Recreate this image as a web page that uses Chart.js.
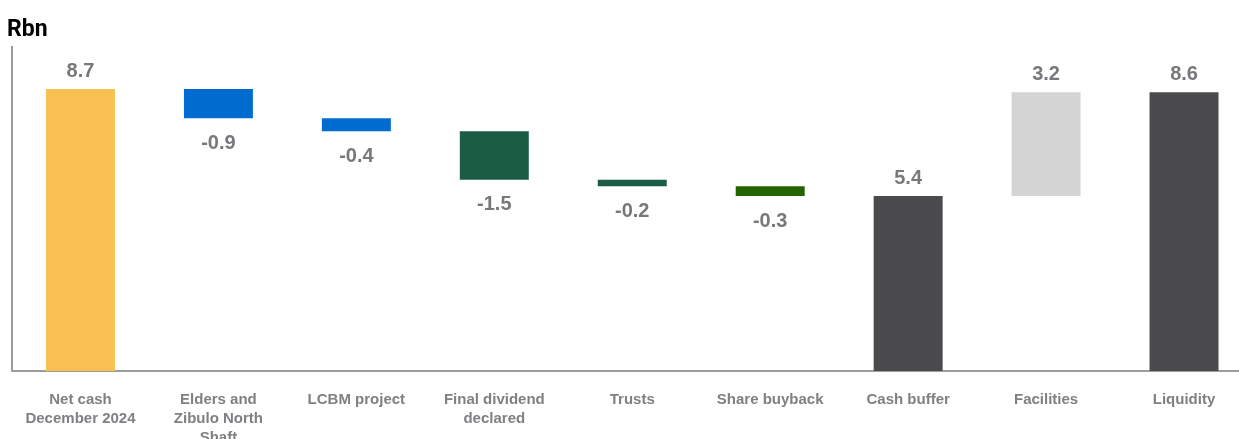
<!DOCTYPE html>
<html>
<head>
<meta charset="utf-8">
<script src="https://cdn.jsdelivr.net/npm/chart.js"></script>
<style>
  html, body {
    margin: 0;
    padding: 0;
    background: #ffffff;
    overflow: hidden;
  }
  .chart-box {
    width: 1253px;
    height: 439px;
  }
</style>
</head>
<body>
<div class="chart-box">
  <canvas id="myChart" width="1253" height="439"></canvas>
</div>

<script>
  const unitLabel = 'Rbn';
  const categories = [
    ['Net cash', 'December 2024'],
    ['Elders and', 'Zibulo North', 'Shaft'],
    'LCBM project',
    ['Final dividend', 'declared'],
    'Trusts',
    'Share buyback',
    'Cash buffer',
    'Facilities',
    'Liquidity',
  ];
  // movement per step in Rbn; totals start from zero
  const changes = [8.7, -0.9, -0.4, -1.5, -0.2, -0.3, 5.4, 3.2, 8.6];
  const isTotal = [true, false, false, false, false, false, true, false, true];
  const barColors = [
    '#F9C152',
    '#006CCF',
    '#006CCF',
    '#1B5C45',
    '#1B5C45',
    '#236400',
    '#4B4B4D',
    '#D4D4D4',
    '#4B4B4D',
  ];

  // build floating [start, end] pairs for the waterfall
  let running = 0;
  const floating = changes.map(function (v, i) {
    if (isTotal[i]) {
      running = v;
      return [0, v];
    }
    const start = running;
    running = Math.round((running + v) * 10) / 10;
    return [start, running];
  });

  // unit caption in the top-left corner
  const unitCaption = {
    id: 'unitCaption',
    afterDraw(chart) {
      const ctx = chart.ctx;
      ctx.save();
      ctx.font = 'bold 23px Roboto, sans-serif';
      ctx.fillStyle = '#000000';
      ctx.textAlign = 'left';
      ctx.textBaseline = 'alphabetic';
      ctx.fillText(unitLabel, 7, 36);
      ctx.restore();
    },
  };

  const valueLabels = {
    id: 'valueLabels',
    afterDatasetsDraw(chart) {
      const ctx = chart.ctx;
      const meta = chart.getDatasetMeta(0);
      ctx.save();
      ctx.font = 'bold 20px "Liberation Sans", Arial, sans-serif';
      ctx.fillStyle = '#78787C';
      ctx.textAlign = 'center';
      ctx.textBaseline = 'middle';
      meta.data.forEach(function (bar, i) {
        const top = Math.min(bar.y, bar.base);
        const bottom = Math.max(bar.y, bar.base);
        const v = changes[i];
        const y = v < 0 ? bottom + 25 : top - 18;
        ctx.fillText(v.toFixed(1), bar.x, y);
      });
      ctx.restore();
    },
  };

  const config = {
    type: 'bar',
    data: {
      labels: categories,
      datasets: [
        {
          data: floating,
          backgroundColor: barColors,
          borderWidth: 0,
          barPercentage: 1,
          categoryPercentage: 0.5,
        },
      ],
    },
    options: {
      responsive: false,
      animation: false,
      layout: {
        padding: { left: 11.5, right: 0, top: 47, bottom: 0 },
      },
      plugins: {
        legend: { display: false },
        tooltip: { enabled: false },
        title: { display: false },
      },
      scales: {
        x: {
          grid: { display: false, drawTicks: false },
          border: { display: true, color: '#9C9CA0', width: 2 },
          ticks: {
            color: '#808084',
            padding: 19,
            maxRotation: 0,
            autoSkip: false,
            font: {
              family: '"Liberation Sans", Arial, sans-serif',
              size: 15,
              weight: 'bold',
              lineHeight: 1.267,
            },
          },
          afterFit(scale) {
            scale.height = 68;
          },
        },
        y: {
          min: 0,
          max: 10,
          grid: { display: false, drawTicks: false },
          border: { display: true, color: '#9C9CA0', width: 2 },
          ticks: { display: false },
          afterFit(scale) {
            scale.width = 0;
          },
        },
      },
    },
    plugins: [valueLabels, unitCaption],
  };

  var myChart = new Chart(document.getElementById('myChart'), config);
</script>
</body>
</html>
